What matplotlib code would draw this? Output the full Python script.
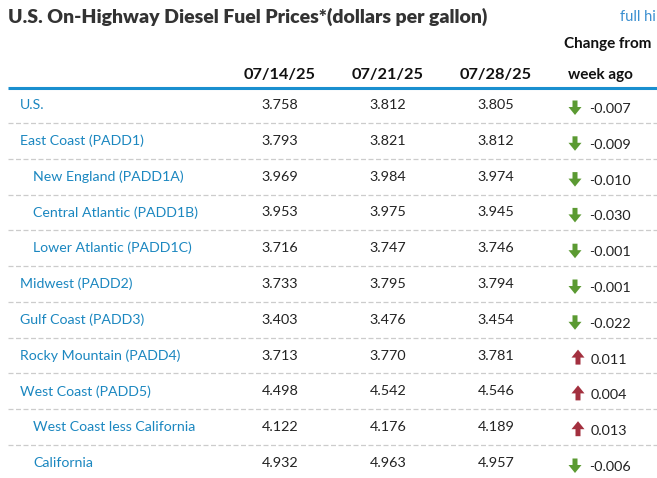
import matplotlib
matplotlib.use("Agg")
import matplotlib.pyplot as plt
from matplotlib.patches import Polygon

regions = ["U.S.", "East Coast (PADD1)", "New England (PADD1A)", "Central Atlantic (PADD1B)",
           "Lower Atlantic (PADD1C)", "Midwest (PADD2)", "Gulf Coast (PADD3)",
           "Rocky Mountain (PADD4)", "West Coast (PADD5)", "West Coast less California", "California"]
indent = [0, 0, 1, 1, 1, 0, 0, 0, 0, 1, 1]
dates = ["07/14/25", "07/21/25", "07/28/25"]
w1 = ["3.758", "3.793", "3.969", "3.953", "3.716", "3.733", "3.403", "3.713", "4.498", "4.122", "4.932"]
w2 = ["3.812", "3.821", "3.984", "3.975", "3.747", "3.795", "3.476", "3.770", "4.542", "4.176", "4.963"]
w3 = ["3.805", "3.812", "3.974", "3.945", "3.746", "3.794", "3.454", "3.781", "4.546", "4.189", "4.957"]
change = ["-0.007", "-0.009", "-0.010", "-0.030", "-0.001", "-0.001", "-0.022", "0.011", "0.004", "0.013", "-0.006"]

W, H = 657, 478
fig = plt.figure(figsize=(W / 100, H / 100), dpi=100)
ax = fig.add_axes([0, 0, 1, 1])
ax.set_xlim(0, W)
ax.set_ylim(H, 0)
ax.axis("off")

FONT = "Lato"
blue = "#1b87c0"
green = "#5b9a32"
red = "#a3303f"
dark = "#222222"


def arrow(cx, top, bottom, down, color):
    # arrow shape: shaft half-width 2.5, head half-width 6.5, head length 8
    hw, sw, hl = 6.5, 2.5, 8
    if down:
        pts = [(cx - sw, top), (cx + sw, top), (cx + sw, bottom - hl), (cx + hw, bottom - hl),
               (cx, bottom), (cx - hw, bottom - hl), (cx - sw, bottom - hl)]
    else:
        pts = [(cx - sw, bottom), (cx + sw, bottom), (cx + sw, top + hl), (cx + hw, top + hl),
               (cx, top), (cx - hw, top + hl), (cx - sw, top + hl)]
    ax.add_patch(Polygon(pts, closed=True, color=color, lw=0))


ax.text(8, 17, "U.S. On-Highway Diesel Fuel Prices*(dollars per gallon)", fontsize=14,
        fontweight="heavy", color="#333333", family=FONT, va="center", ha="left")
ax.text(620, 17, "full hi", fontsize=10.5, color="#3a8fd0", family=FONT, va="center",
        ha="left")
ax.text(608, 44, "Change from", fontsize=11, fontweight="bold", color="#111111",
        family=FONT, va="center", ha="center")
ax.text(600, 75, "week ago", fontsize=11, fontweight="bold", color="#111111",
        family=FONT, va="center", ha="center")
col_x = [280, 388, 496]
for cx, d in zip(col_x, dates):
    ax.text(cx, 75, d, fontsize=11.8, fontweight="bold", color="#111111", family=FONT,
            va="center", ha="center")

ax.plot([8, W], [88, 88], color="#1a8fcf", lw=2.2, solid_capstyle="butt")

row0, step = 105, 35.8
for i, name in enumerate(regions):
    y = row0 + i * step
    ax.text(20 + 13 * indent[i], y, name, fontsize=10.2, color=blue, family=FONT,
            va="center", ha="left")
    for cx, vals in zip(col_x, (w1, w2, w3)):
        ax.text(cx, y, vals[i], fontsize=10.4, color=dark, family=FONT, va="center", ha="center")
    val = float(change[i])
    if val < 0:
        ax.text(589, y + 4, change[i], fontsize=10.4, color=dark, family=FONT, va="center", ha="left")
        arrow(575, y - 4.5, y + 10, True, green)
    else:
        ax.text(591, y + 4, change[i], fontsize=10.4, color=dark, family=FONT, va="center", ha="left")
        arrow(578, y - 6, y + 9, False, red)
    if i < len(regions) - 1:
        ax.plot([8, W], [y + step / 2, y + step / 2], color="#cccccc", lw=0.9,
                linestyle=(0, (4, 2)))

fig.savefig("out.png", dpi=100)
